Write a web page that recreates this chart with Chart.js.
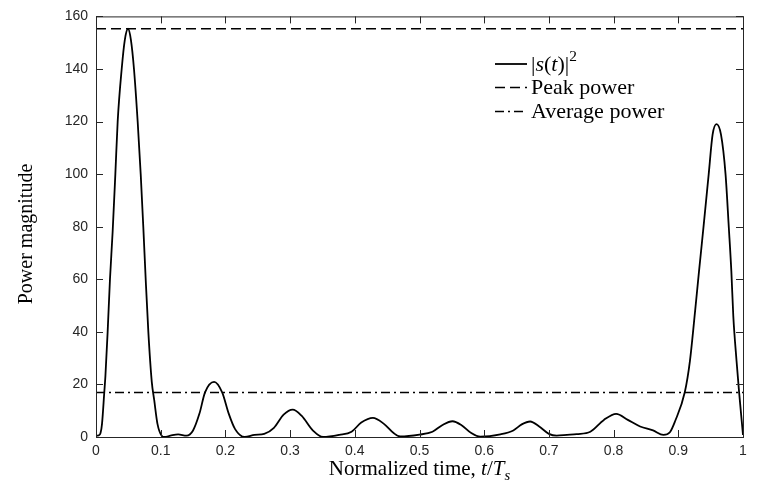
<!DOCTYPE html>
<html>
<head>
<meta charset="utf-8">
<script src="https://cdn.jsdelivr.net/npm/chart.js@4"></script>
<style>
  html, body { margin: 0; padding: 0; background: #fff; }
</style>
</head>
<body>
<canvas id="chart" width="762" height="489"></canvas>
<script>
// normalized time t/Ts and |s(t)|^2
const timeValues = [
  0, 0.004, 0.007, 0.0093, 0.0128, 0.0145, 0.018, 0.0216, 0.0257, 0.0299,
  0.0335, 0.0397, 0.0445, 0.0495, 0.054, 0.0587, 0.0644, 0.0691, 0.0731, 0.0768,
  0.0809, 0.0862, 0.09, 0.095, 0.1015, 0.106, 0.115, 0.127, 0.14, 0.15,
  0.16, 0.1685, 0.1825, 0.195, 0.205, 0.215, 0.23, 0.245, 0.26, 0.275,
  0.29, 0.304, 0.318, 0.335, 0.351, 0.376, 0.395, 0.41, 0.428, 0.445,
  0.46, 0.47, 0.5, 0.52, 0.535, 0.551, 0.565, 0.58, 0.594, 0.625,
  0.645, 0.658, 0.671, 0.685, 0.7, 0.712, 0.728, 0.743, 0.764, 0.785,
  0.804, 0.822, 0.841, 0.861, 0.877, 0.887, 0.895, 0.91, 0.918, 0.926,
  0.932, 0.939, 0.947, 0.953, 0.959, 0.966, 0.973, 0.978, 0.982, 0.985,
  0.99, 0.994, 1
];
const powerValues = [
  0.5, 0.6, 1.5, 5, 17, 23, 40, 60, 78, 100,
  120, 140, 151, 155.3, 151, 140, 120, 100, 80, 60,
  40, 21, 14, 5, 0.5, 0, 0.5, 1, 0.5, 2.5,
  9, 17, 21, 17, 9, 3, 0, 0.8, 1.2, 3.5,
  8.5, 10.4, 8, 2.5, 0, 0.8, 2, 5.5, 7.3, 5,
  1.5, 0.2, 0.9, 2, 4.5, 6, 4.5, 1.5, 0.1, 1,
  2.5, 4.8, 5.9, 4, 1.2, 0.5, 0.8, 1.1, 2, 6.5,
  8.8, 6.5, 4, 2.5, 0.8, 1.8, 6, 17, 29, 48,
  63, 80, 100, 115, 119, 115, 100, 80, 63, 46,
  29, 17, 0.8
];
const peakPower = 155.3;
const averagePower = 16.9;

const xTicks = [0, 0.1, 0.2, 0.3, 0.4, 0.5, 0.6, 0.7, 0.8, 0.9, 1];
const yTicks = [0, 20, 40, 60, 80, 100, 120, 140, 160];

// legend / label text pieces: [text, italic, superscript/subscript]
const legendLabels = [
  [['|', 0], ['s', 1], ['(', 0], ['t', 1], [')|', 0], ['2', 0, 'sup']],
  [['Peak power', 0]],
  [['Average power', 0]]
];
const xTitle = [['Normalized time, ', 0], ['t', 1], ['/', 0], ['T', 1], ['s', 1, 'sub']];
const yTitle = 'Power magnitude';

const axisColor = '#262626';
const serif = '"Liberation Serif", "Times New Roman", serif';

function drawPieces(ctx, pieces, x, y, size) {
  let cx = x;
  pieces.forEach(([text, italic, pos]) => {
    const s = pos ? size * 0.7 : size;
    ctx.font = (italic ? 'italic ' : '') + s + 'px ' + serif;
    let dy = 0;
    if (pos === 'sup') dy = -size * 0.38;
    if (pos === 'sub') dy = size * 0.22;
    ctx.fillText(text, cx, y + dy);
    cx += ctx.measureText(text).width;
  });
  return cx - x;
}

function piecesWidth(ctx, pieces, size) {
  let w = 0;
  pieces.forEach(([text, italic, pos]) => {
    const s = pos ? size * 0.7 : size;
    ctx.font = (italic ? 'italic ' : '') + s + 'px ' + serif;
    w += ctx.measureText(text).width;
  });
  return w;
}

const framePlugin = {
  id: 'frame',
  afterDraw(chart) {
    const {ctx, chartArea: a, scales: {x, y}} = chart;
    ctx.save();
    ctx.strokeStyle = axisColor;
    ctx.lineWidth = 1;
    ctx.setLineDash([]);
    ctx.strokeRect(a.left + 0.5, a.top + 0.5, a.right - a.left, a.bottom - a.top);

    // inward tick marks on all four sides
    const tl = 7;
    ctx.beginPath();
    xTicks.forEach(v => {
      const px = Math.round(x.getPixelForValue(v)) + 0.5;
      ctx.moveTo(px, a.bottom); ctx.lineTo(px, a.bottom - tl);
      ctx.moveTo(px, a.top); ctx.lineTo(px, a.top + tl);
    });
    yTicks.forEach(v => {
      const py = Math.round(y.getPixelForValue(v)) + 0.5;
      ctx.moveTo(a.left, py); ctx.lineTo(a.left + tl, py);
      ctx.moveTo(a.right, py); ctx.lineTo(a.right - tl, py);
    });
    ctx.stroke();

    // axis titles
    ctx.fillStyle = '#000';
    ctx.textBaseline = 'alphabetic';
    ctx.textAlign = 'left';
    const xs = 21;
    const xw = piecesWidth(ctx, xTitle, xs);
    drawPieces(ctx, xTitle, (a.left + a.right) / 2 - xw / 2, 475, xs);

    ctx.save();
    ctx.translate(32, 234);
    ctx.rotate(-Math.PI / 2);
    ctx.font = '20px ' + serif;
    ctx.textAlign = 'center';
    ctx.fillText(yTitle, 0, 0);
    ctx.restore();

    // legend
    const rows = [64, 87.5, 111.5];
    chart.data.datasets.forEach((ds, i) => {
      const ry = rows[i];
      ctx.beginPath();
      ctx.strokeStyle = ds.borderColor;
      ctx.lineWidth = ds.borderWidth;
      ctx.setLineDash(ds.borderDash || []);
      ctx.moveTo(495, ry);
      ctx.lineTo(527, ry);
      ctx.stroke();
      ctx.setLineDash([]);
      ctx.fillStyle = '#000';
      ctx.textBaseline = 'middle';
      ctx.textAlign = 'left';
      drawPieces(ctx, legendLabels[i], 531, ry + 1, 22);
    });
    ctx.restore();
  }
};

const ctx = document.getElementById('chart').getContext('2d');
new Chart(ctx, {
  type: 'line',
  data: {
    datasets: [
      {
        label: '|s(t)|^2',
        data: timeValues.map((t, i) => ({x: t, y: powerValues[i]})),
        borderColor: '#000',
        borderWidth: 1.8,
        pointRadius: 0,
        cubicInterpolationMode: 'monotone',
        fill: false
      },
      {
        label: 'Peak power',
        data: [{x: 0, y: peakPower}, {x: 1, y: peakPower}],
        borderColor: '#000',
        borderWidth: 1.6,
        borderDash: [10, 5],
        pointRadius: 0
      },
      {
        label: 'Average power',
        data: [{x: 0, y: averagePower}, {x: 1, y: averagePower}],
        borderColor: '#000',
        borderWidth: 1.6,
        borderDash: [9, 4, 2, 4],
        pointRadius: 0
      }
    ]
  },
  options: {
    responsive: false,
    animation: false,
    events: [],
    layout: { padding: { left: 0, right: 19, top: 13, bottom: 0 } },
    plugins: {
      legend: { display: false },
      tooltip: { enabled: false }
    },
    scales: {
      x: {
        type: 'linear',
        min: 0,
        max: 1,
        afterBuildTicks: s => { s.ticks = xTicks.map(v => ({value: v})); },
        afterFit: s => { s.height = 52; },
        grid: { display: false, drawTicks: false },
        border: { display: false },
        ticks: {
          color: axisColor,
          padding: 6,
          maxRotation: 0,
          callback: v => String(v),
          font: { family: '"Liberation Sans", Arial, sans-serif', size: 14 }
        }
      },
      y: {
        type: 'linear',
        min: 0,
        max: 160,
        afterBuildTicks: s => { s.ticks = yTicks.map(v => ({value: v})); },
        afterFit: s => { s.width = 96; },
        grid: { display: false, drawTicks: false },
        border: { display: false },
        ticks: {
          color: axisColor,
          padding: 8,
          font: { family: '"Liberation Sans", Arial, sans-serif', size: 14 }
        }
      }
    }
  },
  plugins: [framePlugin]
});
</script>
</body>
</html>
